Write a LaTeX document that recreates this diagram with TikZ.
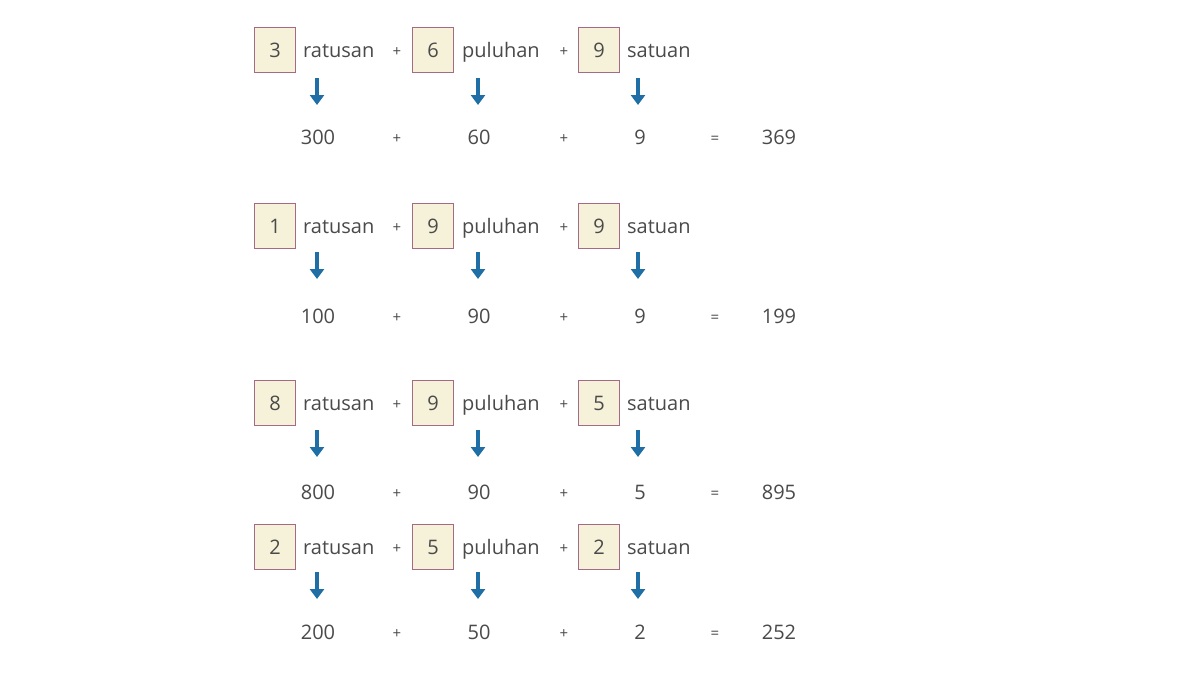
\documentclass[tikz,border=0pt]{standalone}
\usepackage{fontspec}
\setmainfont{Open Sans}
\usetikzlibrary{arrows.meta}
\definecolor{txt}{HTML}{4A4A4A}
\definecolor{boxfill}{HTML}{F6F1D9}
\definecolor{boxedge}{HTML}{A46A86}
\definecolor{arrowblue}{HTML}{1F6EA5}
\begin{document}
\begin{tikzpicture}[x=1pt,y=-1pt,
  digitbox/.style={draw=boxedge, fill=boxfill, line width=1.2pt, minimum width=41pt, minimum height=45pt, inner sep=0pt, text=txt, font=\fontsize{20}{24}\selectfont},
  lbl/.style={anchor=base west, inner sep=0pt, text=txt, font=\fontsize{20}{24}\selectfont},
  num/.style={anchor=base, inner sep=0pt, text=txt, font=\fontsize{20}{24}\selectfont},
  opsign/.style={anchor=base, inner sep=0pt, text=txt, font=\fontsize{15}{18}\selectfont},
  downarrow/.style={draw=arrowblue, line width=3.6pt, -{Triangle[width=14pt,length=10pt]}}]
\useasboundingbox[fill=white] (0,0) rectangle (1200,675);
\foreach \r/\yb/\ya/\yn/\da/\db/\dc/\na/\nb/\nc/\tot in
  {1/50/78/137/3/6/9/300/60/9/369,
   2/226/252/316/1/9/9/100/90/9/199,
   3/403/430/492/8/9/5/800/90/5/895,
   4/547/572/632/2/5/2/200/50/2/252}{
  % top line
  \node[digitbox] (b\r a) at (275,\yb) {\da};
  \node[lbl] (l\r a) at (303,\yb+7) {ratusan};
  \node[opsign] (p\r a) at (397,\yb+6) {+};
  \node[digitbox] (b\r b) at (433,\yb) {\db};
  \node[lbl] (l\r b) at (462,\yb+7) {puluhan};
  \node[opsign] (p\r b) at (564,\yb+6) {+};
  \node[digitbox] (b\r c) at (599,\yb) {\dc};
  \node[lbl] (l\r c) at (627,\yb+7) {satuan};
  % arrows
  \coordinate (s\r a) at (317,\ya);
  \coordinate (e\r a) at (317,\ya+27);
  \coordinate (s\r b) at (478,\ya);
  \coordinate (e\r b) at (478,\ya+27);
  \coordinate (s\r c) at (638,\ya);
  \coordinate (e\r c) at (638,\ya+27);
  \draw[downarrow] (s\r a) -- (e\r a);
  \draw[downarrow] (s\r b) -- (e\r b);
  \draw[downarrow] (s\r c) -- (e\r c);
  % bottom line
  \node[num] (n\r a) at (318,\yn+7.5) {\na};
  \node[opsign] (q\r a) at (397,\yn+6.5) {+};
  \node[num] (n\r b) at (479,\yn+7.5) {\nb};
  \node[opsign] (q\r b) at (564,\yn+6.5) {+};
  \node[num] (n\r c) at (640,\yn+7.5) {\nc};
  \node[opsign] (eq\r) at (715,\yn+6.5) {=};
  \node[num] (t\r) at (779,\yn+7.5) {\tot};
}
\end{tikzpicture}
\end{document}
